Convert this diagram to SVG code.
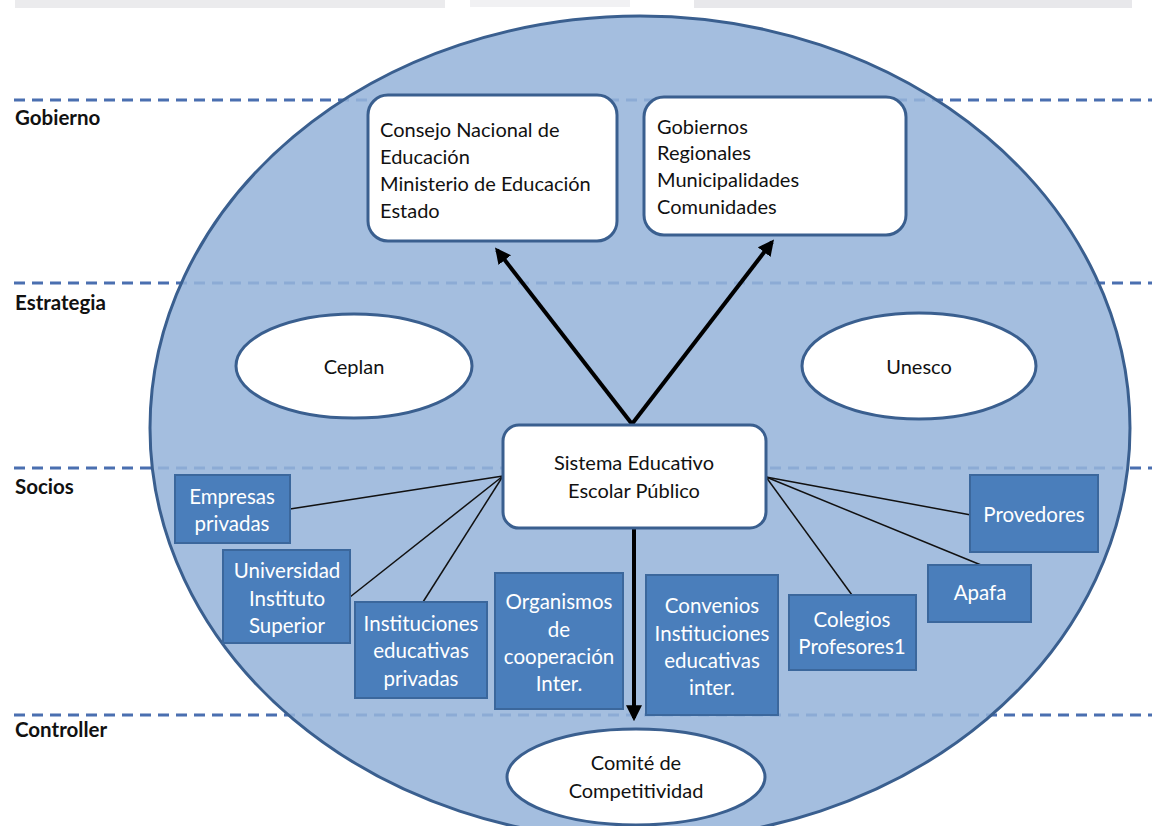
<svg xmlns="http://www.w3.org/2000/svg" width="1152" height="826" viewBox="0 0 1152 826">
<defs>
<style>
.dash{stroke:#4a6fb0;stroke-width:3;stroke-dasharray:11 7;fill:none}
.lbl{font-family:Lato,"Open Sans","Liberation Sans",sans-serif;font-weight:bold;font-size:20.5px;fill:#111}
.wt{font-family:Lato,"Open Sans","Liberation Sans",sans-serif;font-size:20px;fill:#111}
.bt{font-family:Lato,"Open Sans","Liberation Sans",sans-serif;font-size:20.5px;fill:#fff;text-anchor:middle}
.ct{text-anchor:middle}
.wbox{fill:#fff;stroke:#3a5f8f;stroke-width:3}
.bbox{fill:#4a7ebb;stroke:#3b679c;stroke-width:2}
.thin{stroke:#111;stroke-width:1.5;fill:none}
.thick{stroke:#000;stroke-width:4;fill:none}
</style>
<marker id="ah" viewBox="0 0 10 10" refX="8" refY="5" markerWidth="4" markerHeight="4" orient="auto" markerUnits="strokeWidth">
<path d="M0,0 L10,5 L0,10 z" fill="#000"/>
</marker>
</defs>
<rect x="0" y="0" width="1152" height="826" fill="#fff"/>
<g id="topband">
<rect x="15" y="0" width="430" height="8" fill="#ebebed"/>
<rect x="470" y="0" width="160" height="7" fill="#f1f1f3"/>
<rect x="694" y="0" width="438" height="8" fill="#e8e8eb"/>
</g>
<g id="lanes">
<line class="dash" x1="14" y1="100" x2="1152" y2="100"/>
<line class="dash" x1="14" y1="283" x2="1152" y2="283"/>
<line class="dash" x1="14" y1="468" x2="1152" y2="468"/>
<line class="dash" x1="14" y1="715" x2="1152" y2="715"/>
<text class="lbl" x="15" y="125">Gobierno</text>
<text class="lbl" x="15" y="310">Estrategia</text>
<text class="lbl" x="15" y="494">Socios</text>
<text class="lbl" x="15" y="737">Controller</text>
</g>
<g id="main-ellipse">
<ellipse cx="640" cy="428" rx="490" ry="412" fill="rgb(150,180,218)" fill-opacity="0.87" stroke="#3a5f8f" stroke-width="3"/>
</g>
<g id="connectors">
<line class="thin" x1="503" y1="476" x2="290" y2="509"/>
<line class="thin" x1="503" y1="476" x2="350" y2="597"/>
<line class="thin" x1="503" y1="476" x2="423" y2="602"/>
<line class="thin" x1="766" y1="477" x2="971" y2="515"/>
<line class="thin" x1="766" y1="477" x2="981" y2="565"/>
<line class="thin" x1="766" y1="477" x2="852" y2="595"/>
<line class="thick" x1="632" y1="424" x2="497" y2="250" marker-end="url(#ah)"/>
<line class="thick" x1="632" y1="424" x2="772" y2="242" marker-end="url(#ah)"/>
<line class="thick" x1="634" y1="528" x2="634" y2="718" marker-end="url(#ah)"/>
</g>
<g id="consejo">
<rect class="wbox" x="368" y="95" width="249" height="146" rx="20"/>
<text class="wt" x="380" y="137">Consejo Nacional de</text>
<text class="wt" x="380" y="164">Educación</text>
<text class="wt" x="380" y="191">Ministerio de Educación</text>
<text class="wt" x="380" y="218">Estado</text>
</g>
<g id="gobiernos">
<rect class="wbox" x="644" y="97" width="262" height="138" rx="20"/>
<text class="wt" x="657" y="134">Gobiernos</text>
<text class="wt" x="657" y="160">Regionales</text>
<text class="wt" x="657" y="187">Municipalidades</text>
<text class="wt" x="657" y="214">Comunidades</text>
</g>
<g id="ceplan">
<ellipse class="wbox" cx="354" cy="366" rx="118" ry="52"/>
<text class="wt ct" x="354" y="374">Ceplan</text>
</g>
<g id="unesco">
<ellipse class="wbox" cx="919" cy="366" rx="117" ry="53"/>
<text class="wt ct" x="919" y="374">Unesco</text>
</g>
<g id="sistema">
<rect class="wbox" x="503" y="425" width="263" height="103" rx="16"/>
<text class="wt ct" x="634" y="470">Sistema Educativo</text>
<text class="wt ct" x="634" y="498">Escolar Público</text>
</g>
<g id="empresas">
<rect class="bbox" x="175" y="475" width="115" height="68"/>
<text class="bt" x="232" y="504">Empresas</text>
<text class="bt" x="232" y="531">privadas</text>
</g>
<g id="universidad">
<rect class="bbox" x="223" y="550" width="127" height="93"/>
<text class="bt" x="287" y="578">Universidad</text>
<text class="bt" x="287" y="606">Instituto</text>
<text class="bt" x="287" y="633">Superior</text>
</g>
<g id="instituciones">
<rect class="bbox" x="355" y="602" width="132" height="96"/>
<text class="bt" x="421" y="631">Instituciones</text>
<text class="bt" x="421" y="658">educativas</text>
<text class="bt" x="421" y="686">privadas</text>
</g>
<g id="organismos">
<rect class="bbox" x="495" y="573" width="128" height="136"/>
<text class="bt" x="559" y="609">Organismos</text>
<text class="bt" x="559" y="637">de</text>
<text class="bt" x="559" y="664">cooperación</text>
<text class="bt" x="559" y="691">Inter.</text>
</g>
<g id="convenios">
<rect class="bbox" x="646" y="575" width="132" height="140"/>
<text class="bt" x="712" y="613">Convenios</text>
<text class="bt" x="712" y="641">Instituciones</text>
<text class="bt" x="712" y="668">educativas</text>
<text class="bt" x="712" y="695">inter.</text>
</g>
<g id="colegios">
<rect class="bbox" x="789" y="595" width="127" height="75"/>
<text class="bt" x="852" y="627">Colegios</text>
<text class="bt" x="852" y="654">Profesores1</text>
</g>
<g id="apafa">
<rect class="bbox" x="928" y="565" width="103" height="57"/>
<text class="bt" x="980" y="600">Apafa</text>
</g>
<g id="provedores">
<rect class="bbox" x="970" y="475" width="128" height="77"/>
<text class="bt" x="1034" y="522">Provedores</text>
</g>
<g id="comite">
<ellipse class="wbox" cx="636" cy="777" rx="129" ry="48"/>
<text class="wt ct" x="636" y="770">Comité de</text>
<text class="wt ct" x="636" y="798">Competitividad</text>
</g>
</svg>
